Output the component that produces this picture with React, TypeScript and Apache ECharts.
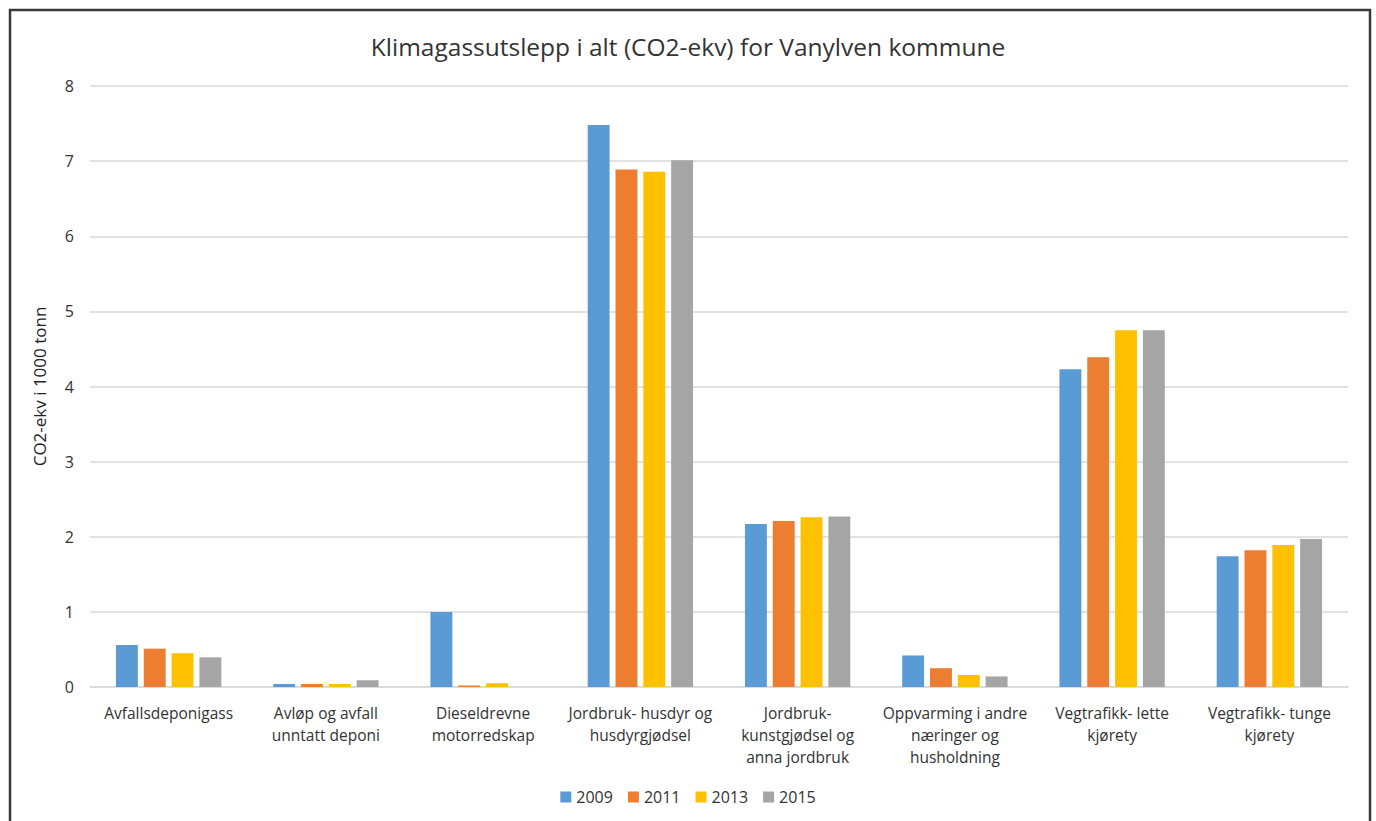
import React, { useEffect, useRef } from "react";
import * as echarts from "echarts";

const categories = [
  "Avfallsdeponigass",
  "Avløp og avfall\nunntatt deponi",
  "Dieseldrevne\nmotorredskap",
  "Jordbruk- husdyr og\nhusdyrgjødsel",
  "Jordbruk-\nkunstgjødsel og\nanna jordbruk",
  "Oppvarming i andre\nnæringer og\nhusholdning",
  "Vegtrafikk- lette\nkjørety",
  "Vegtrafikk- tunge\nkjørety",
];
const years = ["2009", "2011", "2013", "2015"];
const v2009 = [0.56, 0.04, 1.0, 7.48, 2.17, 0.42, 4.23, 1.74];
const v2011 = [0.51, 0.04, 0.02, 6.89, 2.21, 0.25, 4.39, 1.82];
const v2013 = [0.45, 0.04, 0.05, 6.86, 2.26, 0.16, 4.75, 1.89];
const v2015 = [0.395, 0.09, 0, 7.01, 2.27, 0.14, 4.75, 1.97];
const colors = ["#5B9BD5", "#ED7D31", "#FFC000", "#A5A5A5"];

const FONT = "'Open Sans', 'Noto Sans', sans-serif";
const TXT = "#333333";

export default function App() {
  const ref = useRef<HTMLDivElement>(null);
  useEffect(() => {
    if (!ref.current) return;
    const chart = echarts.init(ref.current, null, { renderer: "svg" });
    const data = [v2009, v2011, v2013, v2015];
    chart.setOption({
      animation: false,
      backgroundColor: "#ffffff",
      title: {
        text: "Klimagassutslepp i alt (CO2-ekv) for Vanylven kommune",
        left: "center",
        top: 29,
        textStyle: { fontFamily: FONT, fontSize: 24.5, fontWeight: "normal", color: TXT },
      },
      legend: {
        data: years,
        bottom: 11,
        left: "center",
        itemWidth: 11,
        itemHeight: 11,
        itemGap: 15,
        icon: "rect",
        textStyle: { fontFamily: FONT, fontSize: 16, color: TXT },
      },
      grid: { left: 90, right: 28, top: 86, bottom: 134, containLabel: false },
      xAxis: {
        type: "category",
        data: categories,
        axisLine: { lineStyle: { color: "#d9d9d9", width: 1.5 } },
        axisTick: { show: false },
        axisLabel: {
          interval: 0,
          fontFamily: FONT,
          fontSize: 15.5,
          color: TXT,
          lineHeight: 22,
          margin: 15,
        },
      },
      yAxis: {
        type: "value",
        min: 0,
        max: 8,
        interval: 1,
        name: "CO2-ekv i 1000 tonn",
        nameLocation: "middle",
        nameGap: 42,
        nameTextStyle: { fontFamily: FONT, fontSize: 17, color: "#222222" },
        axisLine: { show: false },
        axisTick: { show: false },
        splitLine: { lineStyle: { color: "#d9d9d9", width: 1.5 } },
        axisLabel: { fontFamily: FONT, fontSize: 16, color: TXT, margin: 16 },
      },
      series: years.map((y, i) => ({
        name: y,
        type: "bar",
        data: data[i],
        itemStyle: { color: colors[i] },
        barGap: "27%",
        barCategoryGap: "33%",
      })),
      graphic: [
        {
          type: "rect",
          shape: { x: 10, y: 10, width: 1360, height: 840 },
          style: { fill: "none", stroke: "#3a3a3a", lineWidth: 2.5 },
          silent: true,
        },
      ],
    });
    return () => chart.dispose();
  }, []);
  return (
    <div
      ref={ref}
      style={{ position: "fixed", left: 0, top: 0, width: 1376, height: 821 }}
    />
  );
}
